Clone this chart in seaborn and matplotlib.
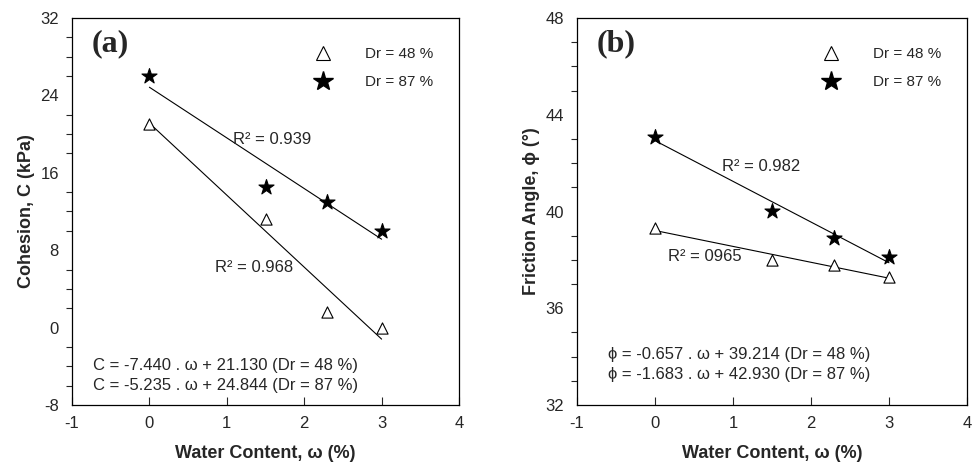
import numpy as np
import pandas as pd
import matplotlib
matplotlib.use("Agg")
import matplotlib.pyplot as plt
import seaborn as sns
from matplotlib.ticker import MultipleLocator

sns.set_style("white")
plt.rcParams['font.family'] = ['Liberation Sans', 'DejaVu Sans']
plt.rcParams['axes.unicode_minus'] = False

# ---- data ----
water = [0, 1.5, 2.3, 3]
coh_48 = [21.0, 11.2, 1.6, 0.0]
coh_87 = [26.0, 14.5, 13.0, 10.0]
phi_48 = [39.3, 38.0, 37.8, 37.3]
phi_87 = [43.1, 40.0, 38.9, 38.1]
coh_fit = {"48": (-7.440, 21.130), "87": (-5.235, 24.844)}
phi_fit = {"48": (-0.657, 39.214), "87": (-1.683, 42.930)}
fit_x = [0, 3]
series_labels = ["Dr = 48 %", "Dr = 87 %"]

fig = plt.figure(figsize=(9.74, 4.65), dpi=100)
axa = fig.add_axes([72/974, 60/465, 387/974, 387/465])
axb = fig.add_axes([577/974, 60/465, 390/974, 387/465])

def draw(ax, y48, y87, fits, ylim, ymaj, ymin, ylabel):
    for key, yv, mk, fc, ms in [("48", y48, "^", "white", 65), ("87", y87, "*", "black", 130)]:
        df = pd.DataFrame({"x": water, "y": yv})
        sns.scatterplot(data=df, x="x", y="y", ax=ax, marker=mk, s=ms,
                        facecolor=fc, edgecolor="black", linewidth=0.8, zorder=3)
        m, b = fits[key]
        lf = pd.DataFrame({"x": fit_x, "y": [m * v + b for v in fit_x]})
        sns.lineplot(data=lf, x="x", y="y", ax=ax, color="black", linewidth=0.8, zorder=2)
    ax.set_xlim(-1, 4)
    ax.set_ylim(*ylim)
    ax.xaxis.set_major_locator(MultipleLocator(1))
    ax.yaxis.set_major_locator(MultipleLocator(ymaj))
    ax.yaxis.set_minor_locator(MultipleLocator(ymin))
    ax.tick_params(axis="x", direction="in", length=6, width=0.8, labelsize=12, pad=8)
    ax.tick_params(axis="y", which="major", direction="out", length=6, width=0.8, labelsize=12)
    ax.tick_params(axis="y", which="minor", direction="out", length=4, width=0.8, left=True)
    ax.tick_params(axis="x", bottom=True)
    for s in ax.spines.values():
        s.set_color("black")
        s.set_linewidth(0.9)
    ax.set_xlabel("Water Content, ω (%)", fontsize=13, fontweight="bold", labelpad=10)
    ax.set_ylabel(ylabel, fontsize=13, fontweight="bold")
    # legend
    h1 = plt.Line2D([], [], marker="^", linestyle="", markersize=10, markerfacecolor="white",
                    markeredgecolor="black", markeredgewidth=0.8)
    h2 = plt.Line2D([], [], marker="*", linestyle="", markersize=15, markerfacecolor="black",
                    markeredgecolor="black")
    ax.legend([h1, h2], series_labels, loc="upper right", bbox_to_anchor=(0.97, 0.96),
              frameon=False, fontsize=11, handletextpad=1.8, labelspacing=0.9)

draw(axa, coh_48, coh_87, coh_fit, (-8, 32), 8, 2, "Cohesion, C (kPa)")
draw(axb, phi_48, phi_87, phi_fit, (32, 48), 4, 1, "Friction Angle, ϕ (°)")

axa.text(0.05, 0.97, "(a)", transform=axa.transAxes, fontsize=23, fontweight="bold",
         family="Liberation Serif", va="top")
axb.text(0.05, 0.97, "(b)", transform=axb.transAxes, fontsize=23, fontweight="bold",
         family="Liberation Serif", va="top")

axa.text(1.08, 19.4, "R² = 0.939", fontsize=12, va="center")
axa.text(0.85, 6.2, "R² = 0.968", fontsize=12, va="center")
axa.text(-0.73, -3.9, "C = -7.440 . ω + 21.130 (Dr = 48 %)", fontsize=12, va="center")
axa.text(-0.73, -5.95, "C = -5.235 . ω + 24.844 (Dr = 87 %)", fontsize=12, va="center")

axb.text(0.86, 41.84, "R² = 0.982", fontsize=12, va="center")
axb.text(0.17, 38.12, "R² = 0965", fontsize=12, va="center")
axb.text(-0.6, 34.07, "ϕ = -0.657 . ω + 39.214 (Dr = 48 %)", fontsize=12, va="center")
axb.text(-0.6, 33.28, "ϕ = -1.683 . ω + 42.930 (Dr = 87 %)", fontsize=12, va="center")

fig.savefig("out.png", dpi=100)
